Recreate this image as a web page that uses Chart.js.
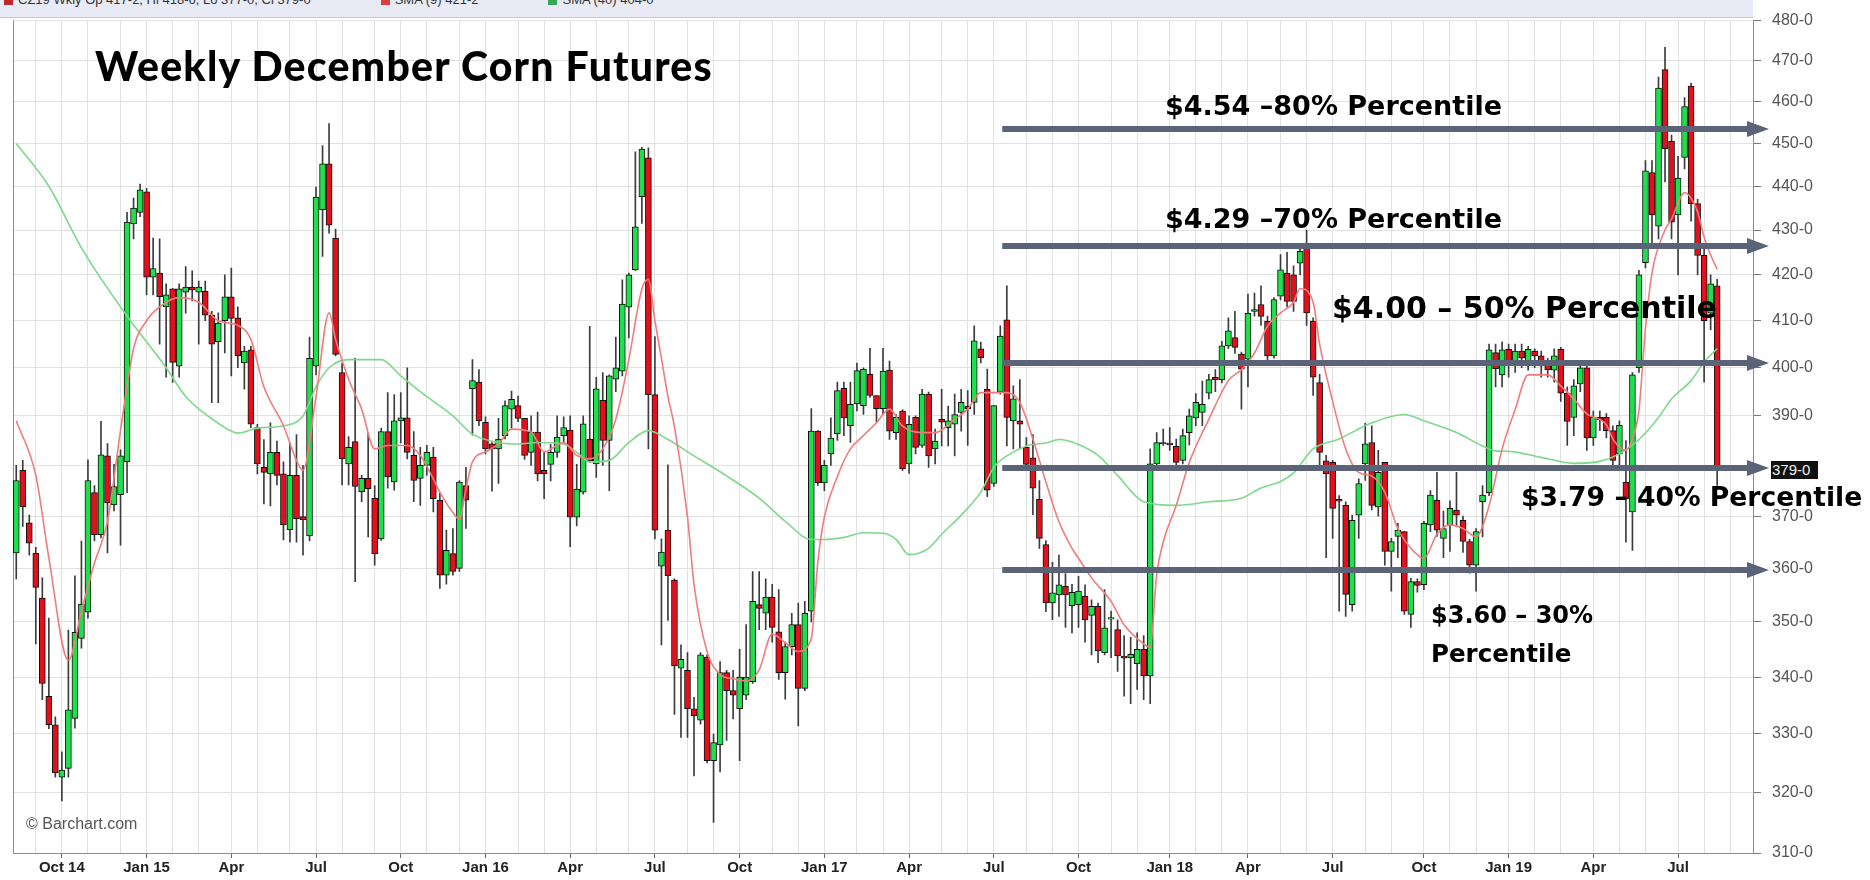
<!DOCTYPE html>
<html>
<head>
<meta charset="utf-8">
<title>Weekly December Corn Futures</title>
<script src="https://cdn.jsdelivr.net/npm/chart.js@4.4.1/dist/chart.umd.min.js"></script>
<style>
  body { margin: 0; background: #fff; }
  #wrap { position: relative; width: 1870px; height: 880px; overflow: hidden; }
  #wrap canvas { position: absolute; left: 0; top: 0; }
  #hdr { position: absolute; left: 0; top: 0; width: 1753px; height: 17px; background: #e8ebf6;
         border-bottom: 1px solid #c6c9d2; overflow: hidden; font: 13px "Liberation Sans", Arial, sans-serif; color: #333; }
  #hdr div { position: relative; top: -8px; left: 4px; white-space: nowrap; }
  #hdr i { display: inline-block; width: 9px; height: 9px; margin: 0 5px 0 0; vertical-align: middle; }
  #hdr b { font-weight: normal; margin-right: 70px; }
  .title { position: absolute; left: 95px; top: 41px; font: 900 41px Lato, "Noto Sans", sans-serif; letter-spacing: 1.2px; color: #000; white-space: nowrap; }
  .note { position: absolute; font-family: "DejaVu Sans", sans-serif; font-weight: 700; color: #000;
          white-space: nowrap; transform: translateY(-50%); line-height: 1; }
  .wm { position: absolute; left: 26px; top: 815px; font: 16px "Liberation Sans Narrow", "Liberation Sans", Arial, sans-serif; color: #555; }
  #last { position: absolute; left: 1771px; width: 46px; height: 18px; background: #111; color: #eee;
          font: 15px "Liberation Sans", Arial, sans-serif; line-height: 18px; text-align: left; padding-left: 1px; }
</style>
</head>
<body>
<div id="wrap">
  <canvas id="chart" width="1870" height="880"></canvas>
  <div id="hdr"><div><i style="background:#c0282d"></i><b>CZ19 Wkly  Op 417-2, Hi 418-6, Lo 377-0, Cl 379-0</b><i style="background:#d9413f"></i><b>SMA (9) 421-2</b><i style="background:#35a853"></i><b>SMA (40) 404-0</b></div></div>
  <div class="title">Weekly December Corn Futures</div>
  <div class="note" style="left:1165px; top:105px; font-size:27px">$4.54 –80% Percentile</div>
  <div class="note" style="left:1165px; top:218px; font-size:27px">$4.29 –70% Percentile</div>
  <div class="note" style="left:1332px; top:308px; font-size:30px">$4.00 – 50% Percentile</div>
  <div class="note" style="left:1521px; top:497px; font-size:26.6px">$3.79 – 40% Percentile</div>
  <div class="note" style="left:1431px; top:615px; font-size:24px">$3.60 – 30%</div>
  <div class="note" style="left:1431px; top:654px; font-size:24.5px">Percentile</div>
  <div class="wm">© Barchart.com</div>
  <div id="last">379-0</div>
</div>
<script>
// weekly candles, week 0 = Aug 11 2014 ... week 261 = Aug 12 2019
const open = [
  362.9, 379, 368.7, 362.9, 354.4, 336.6, 331.6, 322.6, 324.1, 332.7,
  347, 351.8, 374.6, 366.4, 381.9, 372.2, 374.2, 380.7, 431.4, 434,
  438.7, 419.5, 420.4, 413, 416.9, 400.3, 416.2, 417.3, 416.2, 416.4,
  411.2, 405.5, 410, 415.2, 410.6, 401, 403.8, 387.6, 379.6, 378.3,
  382.6, 378.3, 367.4, 378, 369.9, 366.2, 400.3, 434.6, 445.2, 428.2,
  399, 380.3, 384.8, 374.8, 377.4, 373.5, 365.6, 386.8, 376.7, 389,
  389.6, 382, 377.4, 380, 381.6, 373.1, 358.7, 362.8, 360, 376,
  395.6, 397, 388.7, 384.3, 383.3, 386, 391.4, 392.1, 389.5, 382.6,
  386.7, 379, 380.2, 382.6, 386, 387.1, 369.8, 374.7, 385.3, 380.3,
  393.2, 385, 397.6, 399.3, 412.9, 421.1, 437.6, 446.6, 394.4, 360.4,
  367.3, 357.8, 341.6, 341.2, 334.4, 332.4, 343.6, 325.4, 328.1, 340.8,
  337.6, 334.4, 336.8, 339.2, 353.2, 351.6, 354.6, 348.2, 340.8, 345.5,
  349.5, 338, 352, 386.9, 376.5, 382.3, 386.4, 395.7, 388, 392.5,
  392.1, 398.6, 394.2, 391.5, 399.5, 386.6, 391, 380.3, 389.7, 384,
  394.5, 383.3, 389.3, 387.6, 388.3, 390.7, 392, 392.8, 404, 395.5,
  376.4, 394.9, 410.2, 389, 389, 383.6, 381.5, 373.3, 364.5, 353.5,
  355, 356.6, 353, 353.2, 354.8, 351.2, 352.9, 344.4, 350.5, 348.6,
  343.8, 343.5, 342.4, 345, 340.2, 380.3, 384.6, 384.5, 383.8, 381,
  386.6, 389.6, 390.7, 394.7, 398, 397.5, 404.6, 406.4, 402.9, 401.8,
  412, 413.5, 409.9, 402.5, 415.3, 420.4, 420, 422.6, 427, 409.9,
  396.9, 380.9, 380.6, 373.3, 372.1, 353.2, 370.2, 380.3, 384.6, 371.8,
  380.6, 363.2, 366.1, 367, 351.4, 357.5, 356.9, 368.3, 373.1, 365.7,
  368.3, 371.2, 369.2, 365.1, 360.6, 372.8, 374.6, 403.2, 398.5, 403.9,
  400.5, 403.5, 401, 403.5, 402.5, 400.6, 399.5, 403.9, 394.7, 389.7,
  396.6, 400, 385.5, 389.7, 389.7, 387, 382.3, 376.7, 370.8, 400,
  422.7, 443.2, 430.9, 467.8, 450.5, 433.4, 446.7, 463.8, 436, 424.3,
  411.6, 417.6
];
const high = [
  380, 381, 370.2, 364, 358.2, 350.7, 333, 326.9, 348.5, 358.6,
  365.2, 381.1, 376, 388.9, 384.4, 380.2, 383.1, 434, 437.3, 440.5,
  439.5, 428.2, 428, 418, 417, 418, 421.8, 420.9, 418.6, 418.6,
  412, 411.7, 420, 421.5, 413, 404.5, 404.5, 388.3, 385.2, 388.6,
  384.9, 380.7, 384.5, 386.2, 380, 406.5, 439.8, 449.5, 454.7, 430.2,
  401, 385.8, 402, 378, 386.5, 376, 387.5, 394.8, 394.4, 394.8,
  400, 386.8, 383.6, 384, 383.6, 374.6, 367.3, 367.6, 377, 379.6,
  401.7, 399.6, 389.8, 384.6, 389.5, 393.1, 395.1, 394.1, 389.5, 390,
  390.8, 382.6, 384.2, 390, 389.8, 390, 380.2, 390, 408.8, 398,
  399, 398.5, 406.5, 418.9, 420.4, 448, 449.1, 449, 406.6, 365.6,
  380.1, 358, 345.8, 344.4, 336.4, 344.4, 344, 330, 342.8, 341.2,
  341.2, 345, 349.5, 359.4, 359.4, 358, 357, 356, 346.3, 351.6,
  353.5, 353.8, 391.5, 387, 381, 389.6, 397, 397, 397, 401,
  400, 404.1, 394.2, 404.1, 401.4, 390.3, 391.3, 390, 390, 395.5,
  394.9, 387.3, 395.5, 392, 394.5, 395.5, 395.2, 408.9, 405.4, 399.7,
  392.1, 408.9, 417.6, 396.2, 397.5, 385.6, 386.2, 377, 365.3, 361.2,
  362.5, 359, 357, 358.5, 356.9, 354.1, 353.5, 356, 352, 350.4,
  347.5, 347.2, 348, 347.5, 383.3, 386.6, 387.3, 387.6, 385.3, 387.3,
  391.4, 394.6, 397.2, 398.6, 399.6, 405.6, 410.6, 412, 403.3, 415.8,
  416, 417.6, 411, 415, 424.5, 425, 422, 427, 430, 410.6,
  398.6, 382, 381, 374, 372.8, 370.2, 377.3, 388.5, 388, 383,
  380.6, 365.7, 368.6, 367, 358.1, 358, 369, 375, 378.6, 371,
  373, 378.6, 370, 365.5, 367.6, 376, 405, 405, 405.5, 405,
  405, 405, 404.5, 404, 403.5, 402, 404, 404.3, 396, 397.5,
  401, 401.5, 391, 391, 390.5, 388, 389, 385, 399, 421,
  446, 446, 466, 473.3, 452, 447, 461, 464.5, 437, 426,
  420, 419
];
const low = [
  358, 368, 362.5, 346, 336, 330.9, 322.6, 318.6, 322.6, 331,
  345.2, 350.7, 365.2, 365.8, 362.9, 371, 364.4, 374.6, 428, 433,
  415.6, 415.6, 405, 398, 396.9, 398, 411.6, 414.3, 405, 410,
  392.7, 392.7, 403.1, 398.3, 400, 395.5, 387.6, 378.3, 372.4, 372,
  376.1, 365.4, 365, 365, 362.5, 365.2, 398.5, 424.1, 429.3, 402.5,
  376.1, 376.1, 357.5, 372.8, 366, 360.6, 365.3, 375.5, 375.1, 384.5,
  381.3, 372.8, 372.1, 378, 370.8, 356.2, 357, 358.7, 359.4, 367.6,
  386.1, 388, 382.3, 374.9, 376.4, 385.3, 387.5, 388.8, 381.2, 380,
  376.9, 373.4, 376.9, 381.6, 384.5, 364.1, 368.1, 374.3, 380.6, 377.6,
  380, 375, 395, 398.3, 406.3, 421, 431.5, 383.3, 365.6, 345.8,
  350.3, 333.4, 329.4, 329.4, 322.8, 331.7, 325, 315, 323.5, 328.9,
  332.6, 325.4, 336, 338.9, 348.6, 348.6, 346.3, 339.6, 336.1, 344,
  331.4, 337.6, 350, 376, 375, 380, 385, 386, 384.6, 391,
  390.3, 393.8, 388.7, 390.4, 385.2, 385.2, 379, 378.4, 382.3, 383.6,
  379.6, 380.3, 383.9, 383.9, 381.9, 386.9, 384, 390.3, 401, 373.8,
  375.8, 394.5, 383.9, 383.3, 383.3, 379.9, 370.3, 363.8, 351.9, 350.4,
  351, 349, 348, 349, 346.3, 344, 342.6, 344, 343.5, 341,
  336.6, 335.3, 337.8, 336, 335.3, 379, 384, 383, 380, 380.3,
  384.1, 388, 388, 393.5, 395, 396.8, 404, 403, 391.4, 396,
  411, 409, 401.5, 402, 414.5, 413, 412, 420, 409, 394.2,
  379.5, 362, 365.7, 352, 351, 352, 365.7, 377, 371.2, 370,
  360.6, 355.7, 362, 351.4, 349, 355.5, 356, 367, 366.1, 362,
  363.2, 368, 363, 359.1, 355.7, 366, 374, 396, 396, 398,
  399, 400, 399.5, 400, 398, 398, 397, 393, 384, 386,
  395, 383, 384, 387, 385.5, 380, 379, 365, 363.4, 399,
  421.5, 427, 428, 441, 428, 420, 444, 432, 420, 397,
  408, 376
];
const close = [
  377, 371.8, 364.8, 356.4, 338.9, 331.6, 323.3, 323.8, 334.2, 348.1,
  353.3, 377, 366.4, 382.1, 372.6, 375.8, 381.9, 431.8, 435, 439.2,
  419.5, 421.4, 415.2, 415.6, 401.1, 416.9, 417.3, 416.7, 417.3, 411.2,
  405, 409.5, 415.2, 410.5, 402.5, 403.5, 388.3, 380.3, 378.6, 382.6,
  378, 368.3, 378, 369.5, 369.3, 402, 437.5, 445.2, 431.1, 402.8,
  381.3, 383.6, 375.8, 377.4, 375.4, 362.8, 386.8, 377.7, 389, 389.6,
  382.6, 377, 380, 382.6, 373.4, 358.7, 363.4, 359.4, 376.7, 373.1,
  397.3, 389, 383.3, 383.3, 385.3, 392.1, 393.4, 389.5, 382, 386.7,
  378.3, 378.3, 382.6, 385.7, 387.6, 369.8, 375.3, 388.4, 380.9, 395.6,
  385, 398.3, 400, 413.6, 420, 430.7, 448.7, 394.4, 367.3, 363.1,
  358.6, 342, 343.2, 334.4, 333.2, 344, 325.4, 328.5, 340.8, 337.6,
  336.8, 340, 340, 353.8, 352.5, 354.6, 349, 340.8, 345.5, 349.5,
  338, 351.6, 386.9, 376.5, 380, 385.5, 395.2, 389.6, 392.4, 399.4,
  399.7, 394.2, 391.5, 399.3, 386.9, 389.7, 379.3, 388.3, 383.6, 394.5,
  381.9, 384.9, 388.7, 389, 390.3, 392.8, 391.5, 405.7, 402.1, 375.1,
  392.1, 406.7, 389.7, 393.5, 388.3, 380.2, 375.5, 365.7, 353.5, 355.4,
  356.9, 355, 355.5, 355.7, 350.4, 352.9, 344.7, 348.9, 350.8, 343.8,
  343.4, 344.1, 345, 340.2, 380.3, 384.6, 384.3, 384.1, 380.6, 386,
  390, 392.8, 392.4, 397.5, 397.5, 404.6, 407.8, 404.3, 399.7, 411.6,
  412.4, 410.9, 402.5, 414.6, 421.1, 414.2, 414.2, 425.2, 411.7, 398,
  382.6, 378.3, 371.5, 372.9, 355.1, 369.2, 376.4, 384.3, 372.1, 378.6,
  363.2, 365.1, 367.3, 352, 357.5, 356.8, 368.6, 374.1, 367.3, 367.6,
  371.5, 370.2, 365.1, 360.6, 367, 374.1, 403.8, 399.8, 403.8, 401,
  403.5, 402, 403.9, 402.5, 400.4, 399.6, 402.5, 394.7, 388.9, 396.2,
  400, 385.5, 389.7, 389.2, 387, 381, 388.1, 373.4, 398.5, 420,
  443.6, 433.4, 463.3, 448.8, 431.8, 441.9, 458.8, 436, 424.3, 410,
  418, 379
];

// moving averages: [week, price]
const redMA = [[0,389],[3,378],[5,362],[8,343],[10,352],[12,361],[14,369],[16,387],[18,404],[20,410],
  [22,413],[25,415],[28,414],[31,410],[34,409],[36,406],[38,396],[41,388],[43,381],[44,379],[46,394],
  [48,411.7],[49,406],[51,397.6],[53,391.4],[55,383.3],[57,384],[60,384],[62,382],[64,377.3],[65,374.7],
  [67,370.7],[68,369.4],[69,375.3],[70,380.7],[72,382.7],[74,384.3],[76,387.3],[79,386.7],[81,382.7],
  [84,384.6],[86,382],[88,381.3],[90,383.3],[92,389.3],[94,401.7],[96,416.9],[97,419],[98,410],[99,402],
  [100,394],[101,387.8],[103,369.8],[104,357],[106,344.6],[108,340.5],[110,339.7],[112,339.3],[114,341.3],
  [116,347.8],[118,346.2],[120,344.6],[122,347],[123,361.2],[124,369.8],[126,377.8],[128,383.3],[130,386],
  [132,388.6],[134,391.4],[136,387.9],[139,386.6],[141,386.6],[144,389.3],[146,391.4],[148,394.8],
  [150,394.8],[152,394.8],[154,392.8],[156,385.3],[158,376.7],[160,368.9],[162,363.8],[163,361.9],
  [165,358.2],[168,353.8],[170,349.5],[173,346],[174,345.3],[175,358.8],[176,365],[178,372.1],[180,380.6],
  [183,389.3],[186,397.3],[188,399.6],[190,403.1],[192,408.8],[194,411.7],[196,414],[197,417],[199,414],
  [200,405],[202,393],[204,383.3],[206,378.6],[208,377.9],[210,374.7],[212,367.6],[214,363.8],[216,361.9],
  [218,366.5],[220,368.3],[222,367.6],[224,366],[226,372],[228,383.3],[230,391.3],[232,398.5],[235,398.5],
  [237,396.2],[239,393.5],[241,390.4],[244,388.2],[245,385.3],[247,383],[248,385.3],[249,391.2],[250,408.3],
  [251,420.4],[253,430],[254,432.5],[256,438.5],[258,434.1],[259,428.4],[260,424.4],[261,421.2]];
const greenMA = [[0,450],[5,440],[10,426],[17,411],[23,400],[26,394],[31,388.5],[34,386.5],[37,387.5],
  [41,388],[44,390],[46,396],[48,400],[51,401.7],[56,401.7],[59,398.3],[62,395],[64,393],[67,390],[70,386.3],
  [74,384.6],[77,384.3],[80,384.6],[84,384.3],[86,382.6],[88,380.7],[91,381],[94,384.6],[97,387],[100,385.2],
  [104,381.9],[109,377.9],[114,373.5],[118,369],[122,365.5],[124,365.5],[127,365.9],[130,366.8],[133,366.7],
  [135,365.5],[137,362.6],[140,363.8],[142,366.5],[145,370.2],[148,374.7],[150,379.6],[152,381.9],[155,383.9],
  [158,384.5],[160,385.2],[163,384.2],[166,382],[169,378],[173,372.8],[178,372.1],[183,372.8],[188,373.5],
  [191,375.5],[194,376.8],[196,378.5],[199,383.3],[203,385.3],[208,388.6],[213,390.3],[216,389],[221,386.6],
  [225,383.9],[227,382.9],[229,382.8],[234,381.6],[239,380.4],[243,380.8],[246,382.3],[249,385.2],[252,389.7],
  [254,393.5],[257,397.3],[259,401.2],[261,404]];

const quarterIdx = [7, 20, 33, 46, 59, 72, 85, 98, 111, 124, 137, 150, 163, 177, 189, 202, 216, 229, 242, 255];
const quarterLabels = ['Oct 14', 'Jan 15', 'Apr', 'Jul', 'Oct', 'Jan 16', 'Apr', 'Jul', 'Oct', 'Jan 17',
  'Apr', 'Jul', 'Oct', 'Jan 18', 'Apr', 'Jul', 'Oct', 'Jan 19', 'Apr', 'Jul'];
const monthIdx = [3, 7, 11, 16, 20, 24, 28, 33, 37, 42, 46, 50, 55, 59, 63, 68, 72, 77, 81, 85, 89, 94, 98,
  103, 107, 111, 116, 120, 124, 129, 133, 137, 142, 146, 150, 155, 159, 163, 168, 172, 177, 181, 185, 189,
  194, 198, 202, 207, 211, 216, 220, 224, 229, 233, 237, 242, 246, 250, 255, 259, 263];
const yTicks = [310, 320, 330, 340, 350, 360, 370, 380, 390, 400, 410, 420, 430, 440, 450, 460, 470, 480];

const arrowLevels = [453.5, 426.3, 400.9, 379.4, 359.6];
const arrowStart = 151.3;
const lastPrice = 379;
const nSlots = 267;   // 262 weeks + empty space before the axis

const GREEN = '#1fe04c', RED = '#e2101a';

const slots = [];
for (let i = 0; i < nSlots; i++) slots.push(i);

const bodies = open.map((o, i) => [o, close[i]]);
const wicks = low.map((l, i) => [l, high[i]]);
const bodyColors = open.map((o, i) => close[i] >= o ? GREEN : RED);

function sparse(pairs) {
  const arr = new Array(nSlots).fill(null);
  pairs.forEach(p => { arr[p[0]] = p[1]; });
  return arr;
}

const framePlugin = {
  id: 'frame',
  beforeDatasetsDraw(chart) {
    const { ctx, chartArea } = chart;
    ctx.save();
    ctx.strokeStyle = '#8c8c8c';
    ctx.lineWidth = 1;
    ctx.beginPath();
    ctx.moveTo(chartArea.left + 0.5, chartArea.top);
    ctx.lineTo(chartArea.left + 0.5, chartArea.bottom);
    ctx.stroke();
    ctx.restore();
  }
};

const arrowPlugin = {
  id: 'arrows',
  afterDatasetsDraw(chart) {
    const { ctx, chartArea, scales } = chart;
    const x0 = scales.x.getPixelForValue(arrowStart);
    const tip = chartArea.right + 16;
    ctx.save();
    ctx.fillStyle = '#5a6377';
    arrowLevels.forEach(v => {
      const py = Math.round(scales.y.getPixelForValue(v));
      ctx.fillRect(x0, py - 3, tip - 20 - x0, 6);
      ctx.beginPath();
      ctx.moveTo(tip - 22, py - 8);
      ctx.lineTo(tip, py);
      ctx.lineTo(tip - 22, py + 8);
      ctx.closePath();
      ctx.fill();
    });
    ctx.restore();
  }
};

const chart = new Chart(document.getElementById('chart'), {
  type: 'bar',
  data: {
    labels: slots,
    datasets: [
      {
        type: 'line', data: sparse(redMA), borderColor: '#f07c7c', borderWidth: 1.6,
        pointRadius: 0, spanGaps: true, cubicInterpolationMode: 'monotone', order: 0
      },
      {
        type: 'line', data: sparse(greenMA), borderColor: '#7ed88c', borderWidth: 1.6,
        pointRadius: 0, spanGaps: true, cubicInterpolationMode: 'monotone', order: 0
      },
      {
        data: bodies, backgroundColor: bodyColors, borderColor: '#111', borderWidth: 1,
        borderSkipped: false, barThickness: 6, grouped: false, order: 1
      },
      {
        data: wicks, backgroundColor: '#3c3c3c', borderWidth: 0,
        barThickness: 1, grouped: false, order: 2
      }
    ]
  },
  options: {
    responsive: false,
    animation: false,
    devicePixelRatio: 1,
    layout: { padding: { left: 13, top: 16, right: 0, bottom: 0 } },
    plugins: { legend: { display: false }, tooltip: { enabled: false } },
    scales: {
      x: {
        type: 'category',
        offset: true,
        afterFit: s => { s.height = 27; },
        grid: {
          offset: false,
          color: c => monthIdx.includes(c.index) ? '#e2e2e2' : 'rgba(0,0,0,0)',
          tickColor: c => quarterIdx.includes(c.index) ? '#666' : 'rgba(0,0,0,0)',
          tickLength: 5
        },
        border: { display: true, color: '#8c8c8c' },
        ticks: {
          autoSkip: false, maxRotation: 0, minRotation: 0, padding: 1,
          color: '#222',
          font: { family: '"Liberation Sans Narrow", "Liberation Sans", Arial', size: 15, weight: 'bold' },
          callback: (v, i) => { const k = quarterIdx.indexOf(i); return k >= 0 ? quarterLabels[k] : ''; }
        }
      },
      y: {
        type: 'logarithmic',
        position: 'right',
        min: 310, max: 480,
        afterBuildTicks: s => { s.ticks = yTicks.map(v => ({ value: v })); },
        afterFit: s => { s.width = 117; },
        grid: { color: '#e2e2e2', tickColor: '#777', tickLength: 8 },
        border: { display: true, color: '#8c8c8c' },
        ticks: {
          padding: 11, color: '#555',
          font: { family: '"Liberation Sans", Arial', size: 16 },
          callback: v => v === 380 ? '' : v + '-0'
        }
      }
    }
  },
  plugins: [framePlugin, arrowPlugin]
});

document.getElementById('last').style.top = (chart.scales.y.getPixelForValue(lastPrice) - 9) + 'px';
</script>
</body>
</html>
